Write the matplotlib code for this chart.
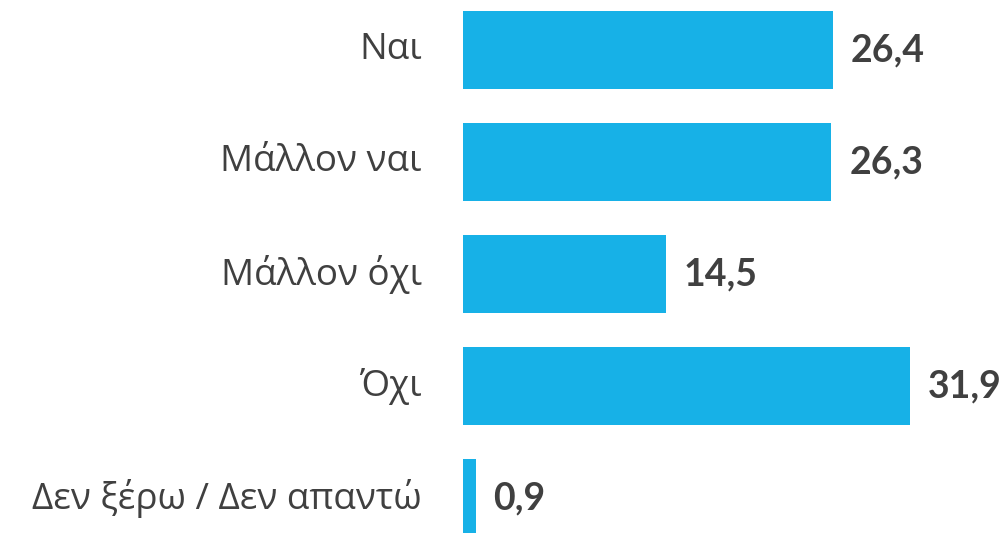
import matplotlib
matplotlib.use("Agg")
import matplotlib.pyplot as plt

categories = ["Ναι", "Μάλλον ναι", "Μάλλον όχι", "Όχι", "Δεν ξέρω / Δεν απαντώ"]
values = [26.4, 26.3, 14.5, 31.9, 0.9]
value_labels = ["26,4", "26,3", "14,5", "31,9", "0,9"]

BAR_COLOR = "#17B1E7"
TEXT_COLOR = "#404040"

W, H = 1007, 533
fig = plt.figure(figsize=(W / 100, H / 100), dpi=100)
left_px = 463
ax = fig.add_axes([left_px / W, 0, 1 - left_px / W, 1])

px_per_unit = 14.0
ax.set_xlim(0, (W - left_px) / px_per_unit)
row_px = 112
first_center = 50
ax.set_ylim((H - first_center) / row_px, -first_center / row_px)

ypos = list(range(len(categories)))
ax.barh(ypos, values, height=0.705, color=BAR_COLOR, linewidth=0)

for y, v, lab in zip(ypos, values, value_labels):
    ax.annotate(lab, (v, y), xytext=(18, 0), textcoords="offset pixels",
                ha="left", va="center", fontsize=27, fontweight="bold",
                family=["Lato", "DejaVu Sans"], color=TEXT_COLOR)

for y, c in zip(ypos, categories):
    ax.annotate(c, (0, y), xytext=(-41, 0), textcoords="offset pixels",
                ha="right", va="center", fontsize=26.5,
                family=["Open Sans", "DejaVu Sans"], color=TEXT_COLOR,
                annotation_clip=False)

ax.set_xticks([])
ax.set_yticks([])
for s in ax.spines.values():
    s.set_visible(False)

fig.savefig("out.png", dpi=100)
